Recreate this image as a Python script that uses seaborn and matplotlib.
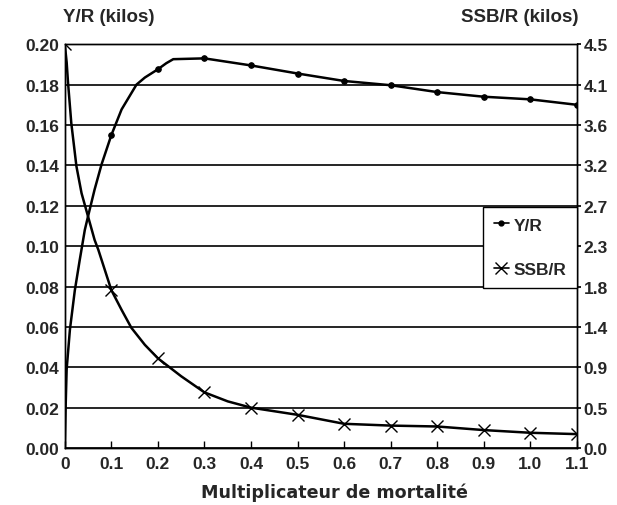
import numpy as np
import pandas as pd
import matplotlib
matplotlib.use("Agg")
import matplotlib.pyplot as plt
from matplotlib.lines import Line2D
import seaborn as sns

# valeurs (axe gauche, kilos)
mult_yr = [0, 0.002, 0.004, 0.011, 0.0215, 0.032, 0.043, 0.05, 0.064, 0.079, 0.1,
           0.122, 0.154, 0.172, 0.2, 0.218, 0.233, 0.3,
           0.4, 0.5, 0.6, 0.7, 0.8, 0.9, 1.0, 1.1]
yr = [0, 0.022, 0.039, 0.0586, 0.078, 0.093, 0.108, 0.1148, 0.128, 0.1405, 0.155,
      0.1677, 0.180, 0.1835, 0.1876, 0.1906, 0.1926, 0.193,
      0.1895, 0.1855, 0.1818, 0.1797, 0.1763, 0.174, 0.1727, 0.170]

# SSB/R (axe droit, kilos)
mult_ssb = [0, 0.004, 0.007, 0.014, 0.025, 0.036, 0.05, 0.064, 0.072, 0.1,
            0.122, 0.143, 0.172, 0.2, 0.25, 0.3, 0.35,
            0.4, 0.5, 0.6, 0.7, 0.8, 0.9, 1.0, 1.1]
ssb = [4.5, 4.30, 4.07, 3.62, 3.14, 2.84, 2.58, 2.32, 2.21, 1.76,
       1.54, 1.34, 1.15, 1.00, 0.80, 0.62, 0.52,
       0.45, 0.37, 0.27, 0.25, 0.24, 0.20, 0.17, 0.155]

left_ticks = [0.00, 0.02, 0.04, 0.06, 0.08, 0.10, 0.12, 0.14, 0.16, 0.18, 0.20]
right_labels = ["0.0", "0.5", "0.9", "1.4", "1.8", "2.3", "2.7", "3.2", "3.6", "4.1", "4.5"]
x_ticks = [0, 0.1, 0.2, 0.3, 0.4, 0.5, 0.6, 0.7, 0.8, 0.9, 1.0, 1.1]
x_labels = ["0", "0.1", "0.2", "0.3", "0.4", "0.5", "0.6", "0.7", "0.8", "0.9", "1.0", "1.1"]

sns.set_theme(style="white")
plt.rcParams['font.family'] = ['Liberation Sans', 'DejaVu Sans']
plt.rcParams['font.weight'] = 'bold'

fig = plt.figure(figsize=(6.17, 5.06), dpi=100)
ax = fig.add_axes([0.105, 0.1126, 0.83, 0.798])
ax2 = ax.twinx()

# echelle de droite = gauche * 22.5
scale = 4.5 / 0.20

def mark_idx(xs):
    return [i for i, v in enumerate(xs) if abs(v * 10 - round(v * 10)) < 1e-6]

df_yr = pd.DataFrame({"m": mult_yr, "v": yr})
df_ssb = pd.DataFrame({"m": mult_ssb, "v": ssb})

sns.lineplot(data=df_yr, x="m", y="v", ax=ax, color="black", lw=1.8,
             estimator=None, marker="o", markersize=4, markeredgecolor="black",
             markevery=mark_idx(mult_yr)[1:])
sns.lineplot(data=df_ssb, x="m", y="v", ax=ax2, color="black", lw=1.8,
             estimator=None, marker="x", markersize=9, markeredgewidth=1.0,
             markeredgecolor="black", markevery=mark_idx(mult_ssb))

# grille horizontale
for t in left_ticks:
    ax.axhline(t, color="black", lw=1.2, zorder=0)

ax.set_xlim(0, 1.1)
ax.set_ylim(0, 0.20)
ax2.set_ylim(0, 4.5)
ax.set_xticks(x_ticks)
ax.set_xticklabels(x_labels)
ax.set_yticks(left_ticks)
ax.set_yticklabels(["%.2f" % t for t in left_ticks])
ax2.set_yticks([t * scale for t in left_ticks])
ax2.set_yticklabels(right_labels)

ax.tick_params(axis="x", direction="in", length=5, width=1, color="black",
               labelsize=12.5, pad=6, bottom=True)
ax.tick_params(axis="y", length=0, labelsize=12.5, pad=4)
ax2.tick_params(axis="y", length=3, direction="out", labelsize=12.5, pad=2, right=True, color="black")

for a in (ax, ax2):
    for s in a.spines.values():
        s.set_color("black")
        s.set_linewidth(1.0)
ax.set_xlabel("Multiplicateur de mortalité", fontsize=12.6,
              fontweight="bold", family=["DejaVu Sans"], va="center")
ax.xaxis.set_label_coords(0.527, -0.108)
ax.set_ylabel("")
ax2.set_ylabel("")

fig.text(0.102, 0.965, "Y/R (kilos)", fontsize=13.5, va="center", ha="left", fontweight="bold")
fig.text(0.937, 0.965, "SSB/R (kilos)", fontsize=13.5, va="center", ha="right", fontweight="bold")

handles = [Line2D([], [], color="black", lw=1.2, marker="o", markersize=3.5),
           Line2D([], [], color="black", lw=1.2, marker="x", markersize=9)]
leg = ax2.legend(handles, ["Y/R", "SSB/R"], loc="upper right", bbox_to_anchor=(1.0, 0.597),
                 borderaxespad=0, fancybox=False, framealpha=1, edgecolor="black",
                 fontsize=12.5, handlelength=0.9, handletextpad=0.25,
                 borderpad=0.6, labelspacing=1.7)
leg.get_frame().set_linewidth(1.0)

fig.savefig("out.png", dpi=100)
